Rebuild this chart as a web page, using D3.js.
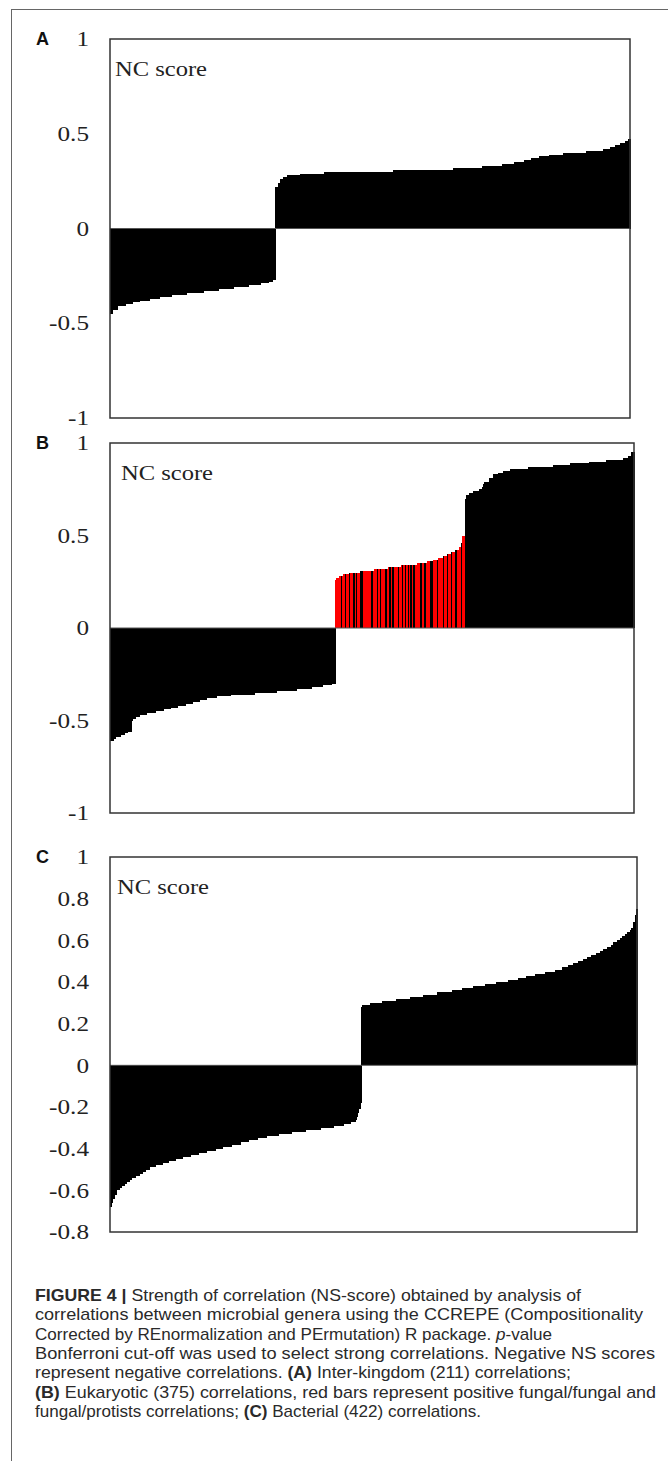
<!DOCTYPE html>
<html>
<head>
<meta charset="utf-8">
<script src="https://cdn.jsdelivr.net/npm/d3@7"></script>
<style>
  body { margin: 0; background: #fff; }
  text { white-space: pre; }
</style>
</head>
<body>
<script>
// sorted NC scores as [score, number of bars in a row]
var scoresA = [
  [-0.45,1],[-0.43,2],[-0.41,3],[-0.40,3],[-0.39,3],[-0.38,4],[-0.37,4],[-0.36,5],[-0.35,6],
  [-0.34,7],[-0.33,6],[-0.32,6],[-0.31,6],[-0.30,5],[-0.29,3],[-0.28,2],[-0.27,1],
  [0.22,1],[0.24,1],[0.26,1],[0.27,2],[0.28,5],[0.29,10],[0.30,28],[0.31,24],[0.32,12],
  [0.33,8],[0.34,5],[0.35,4],[0.36,3],[0.37,3],[0.38,4],[0.39,6],[0.40,9],[0.41,7],
  [0.42,3],[0.43,2],[0.44,2],[0.45,2],[0.46,1],[0.47,1]
];
var scoresB = [
  [-0.61,2],[-0.60,2],[-0.59,3],[-0.58,3],[-0.57,2],[-0.56,3],[-0.50,1],[-0.49,2],[-0.48,3],
  [-0.47,5],[-0.46,6],[-0.45,6],[-0.44,5],[-0.43,5],[-0.42,6],[-0.41,5],[-0.40,5],[-0.39,5],
  [-0.38,7],[-0.37,10],[-0.36,17],[-0.35,16],[-0.34,14],[-0.33,11],[-0.32,8],[-0.31,6],[-0.30,3],
  [0.26,1],[0.27,2],[0.28,3],[0.29,4],[0.30,8],[0.31,10],[0.32,10],[0.33,9],[0.34,12],[0.35,7],
  [0.36,4],[0.37,4],[0.38,3],[0.39,3],[0.40,3],[0.41,3],[0.42,3],[0.44,1],[0.46,1],[0.50,2],
  [0.70,1],[0.72,2],[0.73,3],[0.74,4],[0.75,2],[0.76,1],[0.78,1],[0.79,3],[0.81,3],[0.83,4],
  [0.84,3],[0.85,5],[0.86,13],[0.87,18],[0.88,12],[0.89,14],[0.90,12],[0.91,12],[0.92,4],
  [0.93,2],[0.95,2]
];
var scoresC = [
  [-0.68,1],[-0.66,1],[-0.64,1],[-0.62,2],[-0.60,2],[-0.59,2],[-0.58,2],[-0.57,2],[-0.56,2],
  [-0.55,2],[-0.54,3],[-0.53,3],[-0.52,3],[-0.51,2],[-0.50,3],[-0.49,5],[-0.48,6],[-0.47,5],
  [-0.46,5],[-0.45,6],[-0.44,6],[-0.43,7],[-0.42,6],[-0.41,7],[-0.40,6],[-0.39,7],[-0.38,7],
  [-0.37,7],[-0.36,7],[-0.35,7],[-0.34,10],[-0.33,10],[-0.32,11],[-0.31,12],[-0.30,11],
  [-0.29,8],[-0.28,5],[-0.27,4],[-0.26,1],[-0.25,1],[-0.23,1],[-0.21,1],[-0.18,1],
  [0.28,1],[0.29,6],[0.30,10],[0.31,11],[0.32,11],[0.33,11],[0.34,11],[0.35,12],[0.36,8],
  [0.37,9],[0.38,9],[0.39,9],[0.40,10],[0.41,8],[0.42,6],[0.43,7],[0.44,8],[0.45,8],[0.46,6],
  [0.47,5],[0.48,4],[0.49,4],[0.50,4],[0.51,3],[0.52,3],[0.53,4],[0.54,3],[0.55,3],[0.56,3],
  [0.57,3],[0.58,2],[0.59,3],[0.60,2],[0.61,2],[0.62,2],[0.63,2],[0.64,2],[0.65,1],[0.66,2],
  [0.69,1],[0.72,1],[0.75,1]
];

// panel B: fungal/fungal and fungal/protist bars (bar 161 to 253), minus the black ones inside
var fungalFirstB = 161, fungalLastB = 253;
var notFungalB = [4,7,10,13,15,18,19,26,30,32,36,39,41,45,48,50,52,54,56,61,64,68,69,73,77,80,83,86,90];

var ticksAB = [1, 0.5, 0, -0.5, -1];
var ticksC = [1, 0.8, 0.6, 0.4, 0.2, 0, -0.2, -0.4, -0.6, -0.8];

var captionLines = [
  [["FIGURE 4 | ","b"],["Strength of correlation (NS-score) obtained by analysis of",""]],
  [["correlations between microbial genera using the CCREPE (Compositionality",""]],
  [["Corrected by REnormalization and PErmutation) R package. ",""],["p","i"],["-value",""]],
  [["Bonferroni cut-off was used to select strong correlations. Negative NS scores",""]],
  [["represent negative correlations. ",""],["(A)","b"],[" Inter-kingdom (211) correlations;",""]],
  [["(B)","b"],[" Eukaryotic (375) correlations, red bars represent positive fungal/fungal and",""]],
  [["fungal/protists correlations; ",""],["(C)","b"],[" Bacterial (422) correlations.",""]]
];
var captionWidths = [546, 608, 517, 620, 536, 621, 446];

function unrun(runs) {
  var out = [];
  runs.forEach(function(r){ for (var k = 0; k < r[1]; k++) out.push(r[0]); });
  return out;
}

var svg = d3.select("body").append("svg").attr("width", 668).attr("height", 1461);

// figure frame (runs off the right and bottom of the page)
svg.append("rect")
  .attr("x", 11.5).attr("y", 9.5).attr("width", 700).attr("height", 1500)
  .attr("fill", "none").attr("stroke", "#666").attr("stroke-width", 1);

function panel(values, letter, ticks, domain, box, colour) {
  var x = d3.scaleBand().domain(d3.range(values.length)).range([box.l, box.r]).padding(0);
  var y = d3.scaleLinear().domain(domain).range([box.b, box.t]);
  var g = svg.append("g");

  g.append("g").attr("shape-rendering", "crispEdges")
    .selectAll("rect.bar")
    .data(values)
    .enter().append("rect")
      .attr("class", "bar")
      .attr("x", function(d, i){ return x(i); })
      .attr("width", x.bandwidth() + 0.8)
      .attr("y", function(d){ return y(Math.max(0, d)); })
      .attr("height", function(d){ return Math.abs(y(d) - y(0)); })
      .attr("fill", function(d, i){ return colour(i); });

  g.append("line")
    .attr("x1", box.l).attr("x2", box.r)
    .attr("y1", y(0)).attr("y2", y(0))
    .attr("stroke", "#555").attr("stroke-width", 1);

  g.append("rect")
    .attr("x", box.l).attr("y", box.t)
    .attr("width", box.r - box.l).attr("height", box.b - box.t)
    .attr("fill", "none").attr("stroke", "#333").attr("stroke-width", 1.5);

  var ax = g.append("g")
    .attr("transform", "translate(" + box.l + ",0)")
    .call(d3.axisLeft(y).tickValues(ticks).tickSize(0).tickPadding(21)
      .tickFormat(function(d){ return String(d); }));
  ax.select(".domain").remove();
  ax.attr("font-family", "'Liberation Serif', serif").attr("font-size", 21);
  ax.selectAll("text").attr("fill", "#222").each(function(){
    var w = this.getComputedTextLength();
    d3.select(this).attr("textLength", w * 1.2).attr("lengthAdjust", "spacingAndGlyphs");
  });

  g.append("text")
    .attr("x", box.l + box.nc).attr("y", box.t + 37)
    .attr("font-family", "'Liberation Serif', serif").attr("font-size", 21)
    .attr("fill", "#222")
    .attr("textLength", 92).attr("lengthAdjust", "spacingAndGlyphs")
    .text("NC score");

  g.append("text")
    .attr("x", 36).attr("y", box.t + 6)
    .attr("font-family", "'Liberation Sans', Arial, sans-serif").attr("font-weight", "bold")
    .attr("font-size", 18).attr("fill", "#111")
    .text(letter);
}

var black = function(){ return "#000"; };

panel(unrun(scoresA), "A", ticksAB, [-1, 1], {l: 110, r: 630, t: 39, b: 418, nc: 5}, black);

panel(unrun(scoresB), "B", ticksAB, [-1, 1], {l: 110, r: 634, t: 443, b: 813, nc: 11}, function(i){
  if (i < fungalFirstB || i > fungalLastB) return "#000";
  return notFungalB.indexOf(i - fungalFirstB) >= 0 ? "#000" : "#f00";
});

panel(unrun(scoresC), "C", ticksC, [-0.8, 1], {l: 110, r: 637, t: 857, b: 1232, nc: 7}, black);

// caption
var cap = svg.append("g")
  .attr("font-family", "'Liberation Sans', Arial, sans-serif")
  .attr("font-size", 17).attr("fill", "#2a2a2a");

captionLines.forEach(function(line, k){
  var t = cap.append("text")
    .attr("x", 35).attr("y", 1301 + k * 19.3)
    .attr("textLength", captionWidths[k]).attr("lengthAdjust", "spacingAndGlyphs");
  line.forEach(function(seg){
    t.append("tspan")
      .attr("font-weight", seg[1] === "b" ? "bold" : null)
      .attr("font-style", seg[1] === "i" ? "italic" : null)
      .text(seg[0]);
  });
});
</script>
</body>
</html>
